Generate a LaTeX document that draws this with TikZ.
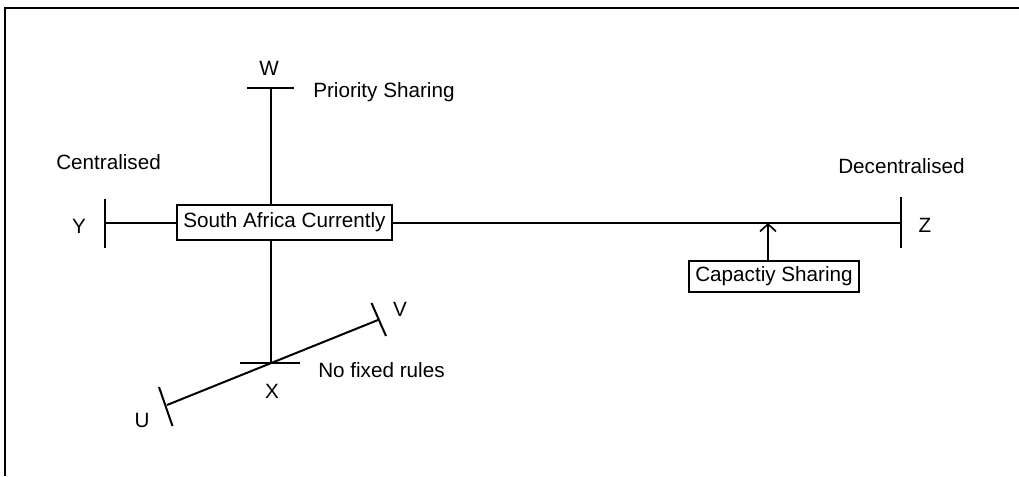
\documentclass[tikz,border=0pt]{standalone}
\usepackage{fontspec}
\setmainfont{Liberation Sans}
\usetikzlibrary{arrows.meta,calc}
\begin{document}
\begin{tikzpicture}[x=0.75pt,y=-0.75pt,
  axis/.style={line width=1.5pt},
  tickln/.style={line width=1.5pt},
  lbl/.style={inner sep=0pt,font=\fontsize{15.5}{18}\selectfont,anchor=base},
  lblw/.style={lbl,anchor=base west},
  boxed/.style={draw,line width=1.3pt,fill=white,inner sep=0pt,font=\fontsize{15.5}{18}\selectfont},
  barb/.style={-{Straight Barb[length=5.5pt,width=12pt,line width=1.2pt]},line width=1.5pt}]
\useasboundingbox (0,0) rectangle (1019,476);
% frame
\coordinate (fTL) at (5,8);
\coordinate (fTR) at (1019,8);
\coordinate (fBL) at (5,476);
\draw[line width=1.5pt] (fTR) -- (fTL) -- (fBL);
% axis end points
\coordinate (Y) at (105,223);
\coordinate (Z) at (901,223);
\coordinate (W) at (271,88);
\coordinate (X) at (271,363);
\coordinate (U) at (167,405);
\coordinate (V) at (378,320);
\coordinate (cap) at (768,223);
% boxes
\node[boxed,minimum width=161pt,minimum height=26pt] (sa) at (284.5,222.5) {South Africa Currently};
\node[boxed,minimum width=127.5pt,minimum height=23.25pt] (cs) at (774,276.5) {Capactiy Sharing};
% axes
\draw[axis] (Y) -- (sa.west |- Y);
\draw[axis] (sa.east |- Z) -- (Z);
\draw[axis] (W) -- (W |- sa.north);
\draw[axis] (sa.south -| X) -- (X);
\draw[axis] (U) -- (V);
% ticks
\draw[tickln] ([yshift=-25*0.75pt]Y) -- ([yshift=24*0.75pt]Y);
\draw[tickln] ([yshift=-25*0.75pt]Z) -- ([yshift=26*0.75pt]Z);
\draw[tickln] ([xshift=-24*0.75pt]W) -- ([xshift=23*0.75pt]W);
\draw[tickln] ([xshift=-31*0.75pt]X) -- ([xshift=29*0.75pt]X);
\draw[tickln] ($(V)+(-6.5,-17)$) -- ($(V)+(8,16)$);
\draw[tickln] ($(U)+(-8,-18)$) -- ($(U)+(5.5,21)$);
% arrow
\draw[barb] (cs.north -| cap) -- (cap);
% labels
\node[lbl] (lW) at (269,75) {W};
\node[lblw] (lPS) at (313,97) {Priority Sharing};
\node[lblw] (lC) at (56,169) {Centralised};
\node[lbl] (lY) at (79,233) {Y};
\node[lblw] (lD) at (838,173) {Decentralised};
\node[lbl] (lZ) at (925,232) {Z};
\node[lbl] (lX) at (272,398) {X};
\node[lbl] (lV) at (400,316) {V};
\node[lbl] (lU) at (142,427) {U};
\node[lblw] (lN) at (318,377) {No fixed rules};
\end{tikzpicture}
\end{document}
